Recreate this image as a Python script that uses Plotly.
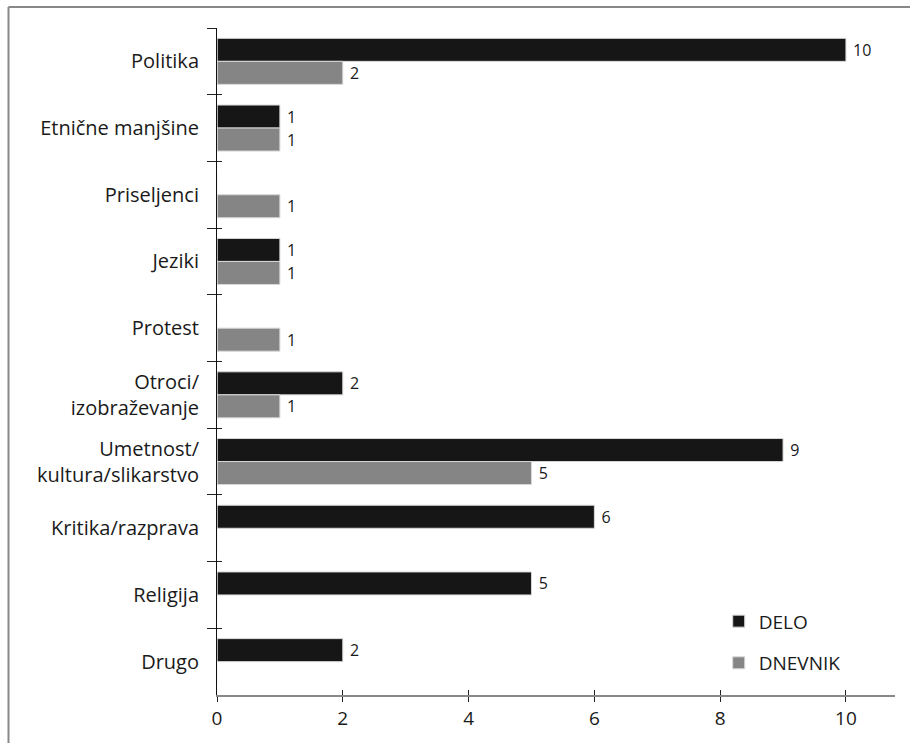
import plotly.graph_objects as go

# Topics covered by the two newspapers (number of articles)
categories = [
    "Politika",
    "Etnične manjšine",
    "Priseljenci",
    "Jeziki",
    "Protest",
    "Otroci/<br>izobraževanje",
    "Umetnost/<br>kultura/slikarstvo",
    "Kritika/razprava",
    "Religija",
    "Drugo",
]
delo = [10, 1, None, 1, None, 2, 9, 6, 5, 2]
dnevnik = [2, 1, 1, 1, 1, 1, 5, None, None, None]
x_ticks = [0, 2, 4, 6, 8, 10]

FONT = "Open Sans"
TEXT = "#1a1a1a"

fig = go.Figure()
for name, vals, color in [("DELO", delo, "#161616"), ("DNEVNIK", dnevnik, "#858585")]:
    fig.add_trace(go.Bar(
        y=categories, x=vals, name=name, orientation="h", legendgroup=name,
        marker=dict(color=color, line=dict(color="#d8d8d8", width=1)),
        texttemplate="\u00a0%{x}", textposition="outside", cliponaxis=False,
        constraintext="none",
        textfont=dict(family=FONT, size=16, color=TEXT),
    ))

# invisible trace carrying the overlay axes (inner half of the crossing ticks)
fig.add_trace(go.Bar(y=categories, x=[0] * len(categories), orientation="h",
                     xaxis="x2", yaxis="y2", showlegend=False,
                     marker=dict(color="rgba(0,0,0,0)"), hoverinfo="skip"))

x_range = [0, 10.78]
fig.update_layout(
    width=910, height=743,
    margin=dict(l=217, r=15, t=28, b=48),
    paper_bgcolor="white", plot_bgcolor="white",
    barmode="group", bargap=0.31, bargroupgap=0,
    font=dict(family=FONT, size=20, color=TEXT),
    showlegend=True,
    legend=dict(x=0.74, y=0.139, xanchor="left", yanchor="top",
                bgcolor="rgba(0,0,0,0)", font=dict(size=19, color=TEXT),
                itemwidth=30, tracegroupgap=14, traceorder="grouped"),
    xaxis=dict(range=x_range, tickvals=x_ticks, showgrid=False, zeroline=False,
               showline=True, linecolor="#888888", linewidth=2,
               ticks="outside", ticklen=5, tickcolor="#222222", tickwidth=1,
               tickfont=dict(size=19, color=TEXT)),
    yaxis=dict(autorange="reversed", showgrid=False, zeroline=False,
               showline=True, linecolor="#111111", linewidth=1,
               ticks="outside", tickson="boundaries", ticklen=9,
               tickcolor="#222222", tickwidth=1,
               tickfont=dict(size=20, color=TEXT), ticklabelstandoff=13),
    xaxis2=dict(range=x_range, overlaying="x", matches="x", showgrid=False,
                zeroline=False, showline=False, tickvals=x_ticks,
                ticks="inside", ticklen=5, tickcolor="#222222",
                showticklabels=False),
    yaxis2=dict(overlaying="y", autorange="reversed", showgrid=False,
                zeroline=False, showline=False, ticks="inside",
                tickson="boundaries", ticklen=5, tickcolor="#222222",
                showticklabels=False),
)

# frame around the figure
fig.add_shape(type="line", xref="paper", yref="paper",
              x0=(8.5 - 217) / 678, x1=(912 - 217) / 678,
              y0=(743 - 48 - 7) / 667, y1=(743 - 48 - 7) / 667,
              line=dict(color="#888888", width=2))
fig.add_shape(type="line", xref="paper", yref="paper",
              x0=(8.5 - 217) / 678, x1=(8.5 - 217) / 678,
              y0=(743 - 48 - 7) / 667, y1=-60 / 667,
              line=dict(color="#888888", width=2))

fig.write_html("out.html")
